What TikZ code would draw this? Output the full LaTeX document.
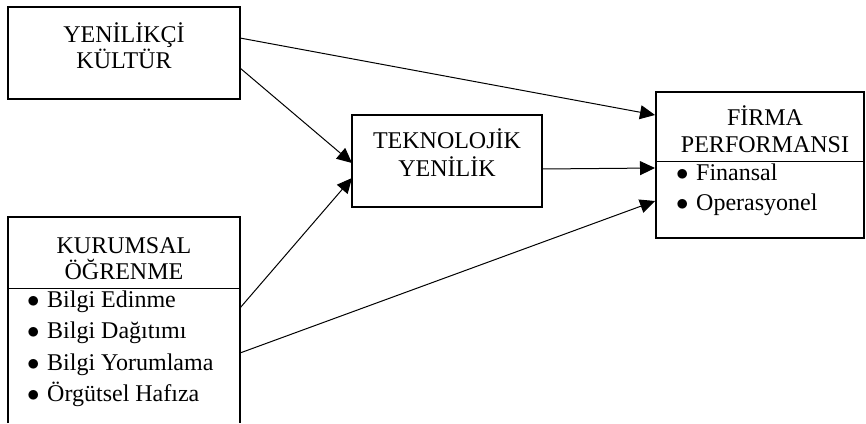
\documentclass[tikz,border=0pt]{standalone}
\usepackage{fontspec}
\setmainfont{Liberation Serif}
\usetikzlibrary{arrows.meta}
\tikzset{
  box/.style={draw, line width=1.6pt, minimum width=#1, inner sep=0pt, outer sep=0pt},
  title/.style={anchor=base, inner sep=0pt, font=\fontsize{24}{26}\selectfont},
  item/.style={anchor=base west, inner sep=0pt, font=\fontsize{24}{26}\selectfont},
  conn/.style={line width=1pt, -{Triangle[length=15pt,width=14pt]}},
  divider/.style={line width=1pt}
}
\newcommand{\bul}[1]{\makebox[20pt][l]{$\bullet$}#1}
\begin{document}
\begin{tikzpicture}[x=1pt,y=-1pt]
\useasboundingbox[fill=white] (0,0) rectangle (866,423);
% boxes
\node[box=232pt, minimum height=92pt] (yk) at (124,53) {};
\node[box=190pt, minimum height=92pt] (tek) at (447,161) {};
\node[box=208pt, minimum height=146pt] (fp) at (760,165) {};
\node[minimum width=232pt, minimum height=206pt, inner sep=0pt, outer sep=0pt] (ko) at (124,320) {};
\draw[line width=1.6pt] (ko.south west) -- (ko.north west) -- (ko.north east) -- (ko.south east);
% dividers
\coordinate (kodl) at (8,288);
\coordinate (kodr) at (240,288);
\draw[divider] (kodl) -- (kodr);
\coordinate (fpdl) at (656,161);
\coordinate (fpdr) at (864,161);
\draw[divider] (fpdl) -- (fpdr);
% texts
\node[title] (yk1) at (124,42) {YENİLİKÇİ};
\node[title] (yk2) at (124,68) {KÜLTÜR};
\node[title] (tek1) at (447,148) {TEKNOLOJİK};
\node[title] (tek2) at (447,176) {YENİLİK};
\node[title] (fp1) at (765,125) {FİRMA};
\node[title] (fp2) at (765,152) {PERFORMANSI};
\node[item] (fpb1) at (676,180) {\bul{Finansal}};
\node[item] (fpb2) at (676,210) {\bul{Operasyonel}};
\node[title] (ko1) at (124,253) {KURUMSAL};
\node[title] (ko2) at (124,279) {ÖĞRENME};
\node[item] (kob1) at (27,307) {\bul{Bilgi Edinme}};
\node[item] (kob2) at (27,338) {\bul{Bilgi Dağıtımı}};
\node[item] (kob3) at (27,370) {\bul{Bilgi Yorumlama}};
\node[item] (kob4) at (27,401) {\bul{Örgütsel Hafıza}};
% connectors
\draw[conn] ([yshift=-31pt]yk.north east) -- ([yshift=-23pt,xshift=-1pt]fp.north west);
\draw[conn] ([yshift=-61pt]yk.north east) -- ([yshift=-2pt]tek.west);
\draw[conn] ([yshift=-91pt]ko.north east) -- ([yshift=-17pt]tek.west);
\draw[conn] ([yshift=-136pt]ko.north east) -- ([yshift=-109pt,xshift=-1pt]fp.north west);
\draw[conn] ([yshift=-8pt]tek.east) -- ([yshift=-76pt,xshift=-1pt]fp.north west);
\end{tikzpicture}
\end{document}
